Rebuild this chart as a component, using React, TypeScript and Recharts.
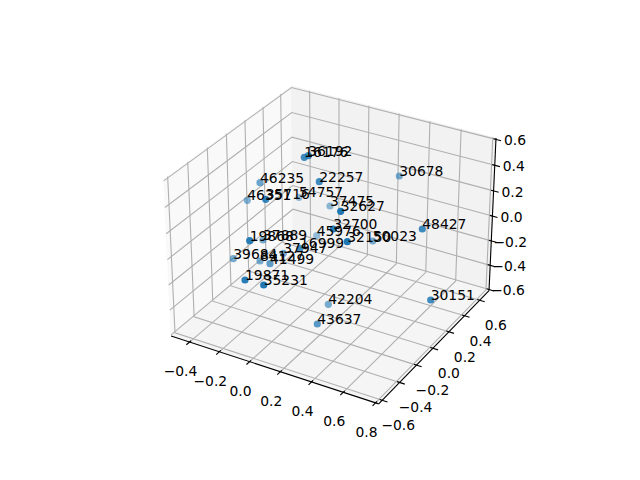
import React from "react";
import { ScatterChart, Scatter, XAxis, YAxis, Customized } from "recharts";

const WIDTH = 640;
const HEIGHT = 480;

// point positions (projected onto the figure plane)
const pointX = [399.3, 422.3, 430.7, 328.3, 317.3, 263.7, 245, 233.3, 260, 270, 249.7, 263, 283.3, 300, 316.7, 333.3, 347.3, 372.7, 304.3, 308.3, 260, 319.3, 247.3, 265.7, 299, 330, 340.7];
const pointY = [176, 229, 300, 304.3, 324, 285, 280, 258.7, 261, 263.7, 240.7, 240, 253.3, 248.3, 235.7, 229, 241.7, 241, 157.3, 155.7, 182.7, 181.7, 200.3, 199.3, 197.3, 206, 211.3];
const pointAlpha = [0.6, 0.85, 0.85, 0.6, 0.75, 1, 0.95, 0.6, 0.6, 0.7, 0.95, 0.6, 0.6, 0.8, 0.45, 0.95, 1, 0.6, 0.85, 0.85, 0.65, 0.85, 0.55, 0.9, 0.45, 0.5, 1];
const pointLabels = ["30678", "48427", "30151", "42204", "43637", "35231", "19871", "39684", "84127", "41499", "19868", "37889", "37947", "16999", "45976", "32700", "32150", "50023", "16176", "36192", "46235", "22257", "46351", "35716", "54757", "37475", "32627"];

const xTicks = [-0.4, -0.2, 0, 0.2, 0.4, 0.6, 0.8];
const yTicks = [-0.6, -0.4, -0.2, 0, 0.2, 0.4, 0.6];
const zTicks = [-0.6, -0.4, -0.2, 0, 0.2, 0.4, 0.6];

const xLim = [-0.525, 0.82];
const yLim = [-0.64, 0.725];
const zLim = [-0.61, 0.61];

type P = { x: number; y: number };

// same camera as a default mplot3d view: elev 30, azim -60, dist 10
const box = [1.1905, 1.1905, 0.8929];
const U = [0.866, 0.5, 0];
const V = [-0.25, 0.433, 0.866];
const W = [0.433, -0.75, 0.5];
const project = (x: number, y: number, z: number): P => {
  const p = [
    ((x - xLim[0]) / (xLim[1] - xLim[0]) - 0.5) * box[0],
    ((y - yLim[0]) / (yLim[1] - yLim[0]) - 0.5) * box[1],
    ((z - zLim[0]) / (zLim[1] - zLim[0]) - 0.5) * box[2],
  ];
  const dot = (a: number[]) => a[0] * p[0] + a[1] * p[1] + a[2] * p[2];
  const depth = 10 - dot(W);
  return {
    x: 143.2 + ((dot(U) / depth + 0.095) / 0.185) * 369.6,
    y: 427.2 - ((dot(V) / depth + 0.095) / 0.185) * 369.6,
  };
};

const [x0, x1] = xLim;
const [y0, y1] = yLim;
const [z0, z1] = zLim;

const fmt = (v: number) => (v < 0 ? "\u2212" : "") + Math.abs(v).toFixed(1);

const gridLines: P[][] = [
  ...xTicks.map((t) => [project(t, y0, z0), project(t, y1, z0), project(t, y1, z1)]),
  ...yTicks.map((t) => [project(x1, t, z0), project(x0, t, z0), project(x0, t, z1)]),
  ...zTicks.map((t) => [project(x0, y0, t), project(x0, y1, t), project(x1, y1, t)]),
];

const dx = x1 - x0;
const dy = y1 - y0;
const axisLines: P[][] = [
  [project(x0, y0, z0), project(x1, y0, z0)],
  [project(x1, y0, z0), project(x1, y1, z0)],
  [project(x1, y1, z0), project(x1, y1, z1)],
  ...xTicks.map((t) => [project(t, y0 + 0.012 * dy, z0), project(t, y0 - 0.024 * dy, z0)]),
  ...yTicks.map((t) => [project(x1 - 0.012 * dx, t, z0), project(x1 + 0.024 * dx, t, z0)]),
  ...zTicks.map((t) => [project(x1 - 0.012 * dx, y1, t), project(x1 + 0.024 * dx, y1, t)]),
];

const tickText = [
  ...xTicks.map((t) => {
    const p = project(t, y0, z0);
    return { x: p.x - 9, y: p.y + 34, label: fmt(t) };
  }),
  ...yTicks.map((t) => {
    const p = project(x1, t, z0);
    return { x: p.x + 16, y: p.y + 30, label: fmt(t) };
  }),
  ...zTicks.map((t) => {
    const p = project(x1, y1, t);
    return { x: p.x + 19, y: p.y + 6, label: fmt(t) };
  }),
];

const points = pointX.map((x, i) => ({ x, y: pointY[i], alpha: pointAlpha[i], label: pointLabels[i] }));

const Panes = () => {
  const poly = (pts: P[], fill: string) => (
    <polygon points={pts.map((p) => `${p.x},${p.y}`).join(" ")} fill={fill} stroke={fill} strokeWidth={1} />
  );
  return (
    <g>
      {poly([project(x0, y0, z0), project(x0, y1, z0), project(x0, y1, z1), project(x0, y0, z1)], "#f9f9f9")}
      {poly([project(x0, y1, z0), project(x1, y1, z0), project(x1, y1, z1), project(x0, y1, z1)], "#f2f2f2")}
      {poly([project(x0, y0, z0), project(x1, y0, z0), project(x1, y1, z0), project(x0, y1, z0)], "#f5f5f5")}
    </g>
  );
};

const noDot = () => <g />;

const Dot = (props: any) => (
  <circle
    cx={props.cx}
    cy={props.cy}
    r={3.6}
    fill="#1f77b4"
    fillOpacity={props.payload.alpha}
  />
);

const PointText = (props: any) => (
  <text x={props.cx} y={props.cy} fontFamily="DejaVu Sans" fontSize={13.89} fill="#000">
    {props.payload.label}
  </text>
);

const TickText = (props: any) => (
  <text x={props.cx} y={props.cy} textAnchor="middle" fontFamily="DejaVu Sans" fontSize={13.89} fill="#000">
    {props.payload.label}
  </text>
);

export default function App() {
  return (
    <div style={{ position: "absolute", left: 0, top: 0, width: WIDTH, height: HEIGHT, background: "#fff" }}>
      <ScatterChart width={WIDTH} height={HEIGHT} margin={{ top: 0, right: 0, bottom: 0, left: 0 }}>
        <XAxis type="number" dataKey="x" domain={[0, WIDTH]} hide />
        <YAxis type="number" dataKey="y" domain={[0, HEIGHT]} reversed hide />
        <Customized component={<Panes />} />
        {gridLines.map((line, i) => (
          <Scatter key={`grid-${i}`} data={line} line={{ stroke: "#b0b0b0", strokeWidth: 1.1 }} shape={noDot} isAnimationActive={false} />
        ))}
        {axisLines.map((line, i) => (
          <Scatter key={`axis-${i}`} data={line} line={{ stroke: "#000", strokeWidth: 1.1 }} shape={noDot} isAnimationActive={false} />
        ))}
        <Scatter data={points} shape={<Dot />} isAnimationActive={false} />
        <Scatter data={points} shape={<PointText />} isAnimationActive={false} />
        <Scatter data={tickText} shape={<TickText />} isAnimationActive={false} />
      </ScatterChart>
    </div>
  );
}
